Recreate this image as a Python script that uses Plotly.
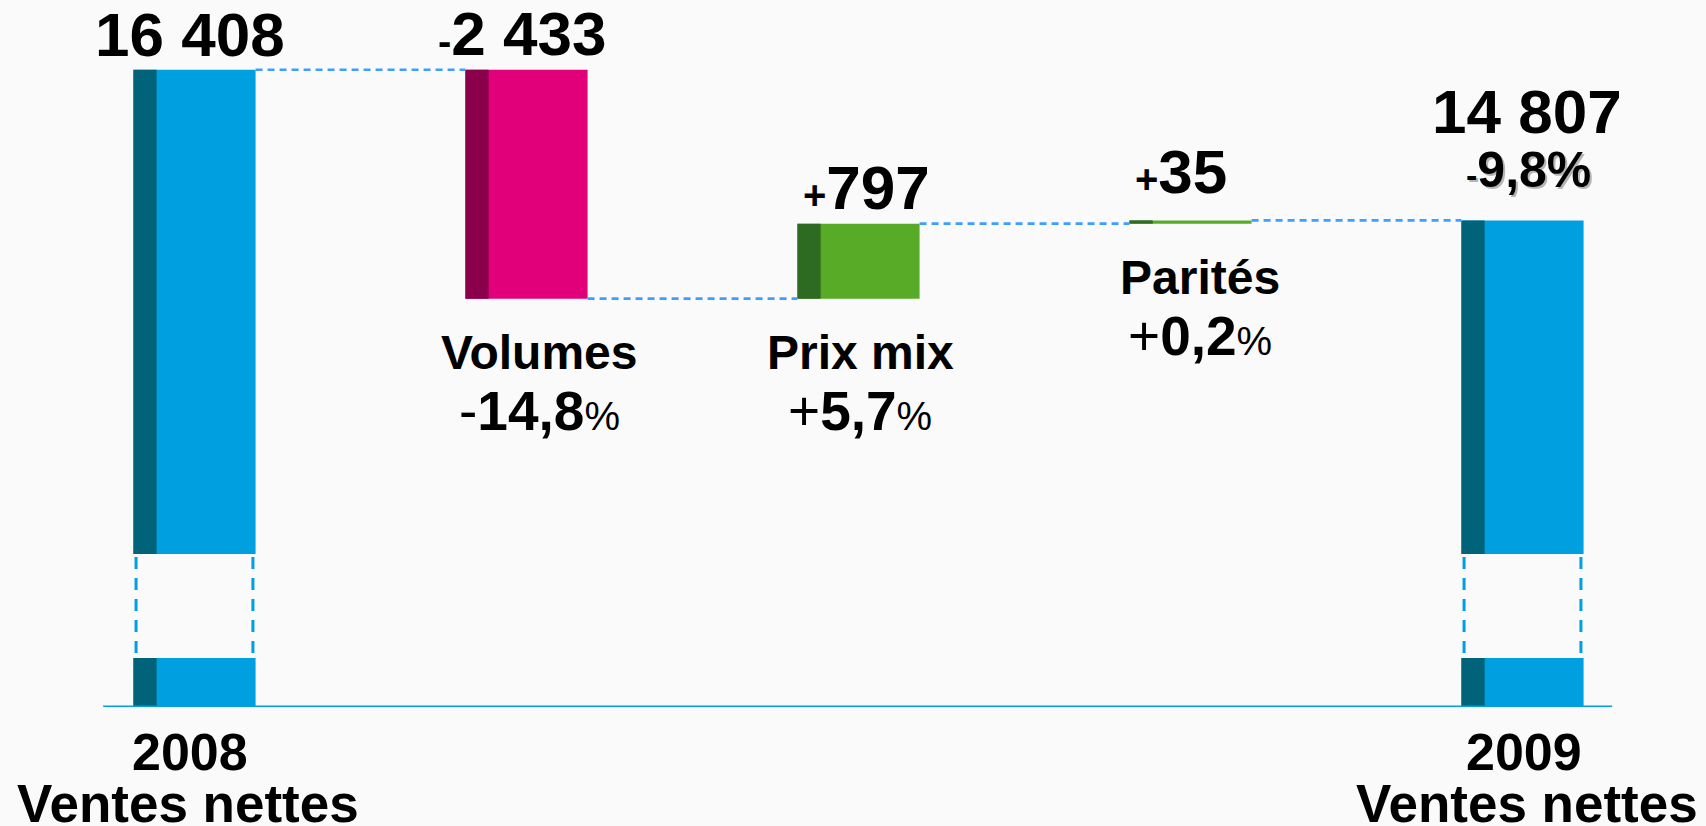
import plotly.graph_objects as go

# ---------------- data ----------------
categories = ["2008", "Volumes", "Prix mix", "Parités", "2009"]
kinds = ["total", "delta", "delta", "delta", "total"]
values = [16408, -2433, 797, 35, 14807]
value_labels = ["16 408", "-2 433", "+797", "+35", "14 807"]
pct_labels = ["", "-14,8%", "+5,7%", "+0,2%", "-9,8%"]
total_subtitle = "Ventes nettes"

# ---------------- styling constants ----------------
W = 1706
H = 826
BG = "#FAFAFA"
BAR_W = 0.368
STRIP_W = 0.07
BLUE, BLUE_D = "#009FDF", "#00637A"
PINK, PINK_D = "#E2007A", "#8B004A"
GREEN, GREEN_D = "#58AB27", "#2D6A22"
CONNECT = "#3F9EFF"
FONT = "Liberation Sans, Arial, Helvetica, sans-serif"


def px2paper(p):
    return 1 - p / H


# ---------------- compute waterfall geometry from data ----------------
bases, heights, main_cols, dark_cols, levels = [], [], [], [], []
level = 0
for k, v in zip(kinds, values):
    if k == "total":
        bases.append(0)
        heights.append(v)
        main_cols.append(BLUE)
        dark_cols.append(BLUE_D)
        level = v
    else:
        start, end = level, level + v
        bases.append(min(start, end))
        heights.append(abs(v))
        main_cols.append(PINK if v < 0 else GREEN)
        dark_cols.append(PINK_D if v < 0 else GREEN_D)
        level = end
    levels.append(level)

idx = list(range(len(categories)))
tot_idx = [i for i, k in enumerate(kinds) if k == "total"]

fig = go.Figure()

# top (broken) section
fig.add_trace(go.Bar(x=idx, y=heights, base=bases, width=BAR_W, offset=-BAR_W / 2,
                     marker=dict(color=main_cols, line=dict(width=0)),
                     yaxis="y2", hoverinfo="skip"))
fig.add_trace(go.Bar(x=idx, y=heights, base=bases, width=STRIP_W, offset=-BAR_W / 2,
                     marker=dict(color=dark_cols, line=dict(width=0)),
                     yaxis="y2", hoverinfo="skip"))
# bottom stub section for totals
fig.add_trace(go.Bar(x=tot_idx, y=[values[i] for i in tot_idx], base=0, width=BAR_W,
                     offset=-BAR_W / 2, marker=dict(color=BLUE, line=dict(width=0)),
                     yaxis="y", hoverinfo="skip"))
fig.add_trace(go.Bar(x=tot_idx, y=[values[i] for i in tot_idx], base=0, width=STRIP_W,
                     offset=-BAR_W / 2, marker=dict(color=BLUE_D, line=dict(width=0)),
                     yaxis="y", hoverinfo="skip"))

# dashed connectors
cx, cy = [], []
for i in range(len(idx) - 1):
    cx += [i + BAR_W / 2, i + 1 - BAR_W / 2, None]
    cy += [levels[i], levels[i], None]
fig.add_trace(go.Scatter(x=cx, y=cy, mode="lines", yaxis="y2",
                         line=dict(color=CONNECT, width=2.6, dash="7px,5px"),
                         hoverinfo="skip"))

shapes = []
# baseline axis
shapes.append(dict(type="line", xref="x", yref="y", x0=-0.275, x1=idx[-1] + 0.27,
                   y0=0, y1=0, line=dict(color=BLUE, width=3)))
# break dashed sides
for i in tot_idx:
    for xe in (i - BAR_W / 2 + 0.008, i + BAR_W / 2 - 0.008):
        shapes.append(dict(type="line", xref="x", yref="paper", x0=xe, x1=xe,
                           y0=px2paper(557), y1=px2paper(656),
                           line=dict(color=BLUE, width=3, dash="12px,9px")))

ann = []


def add(text, x, y, yref, yanchor, yshift, size, color="black", xshift=0):
    ann.append(dict(text=text, x=x, y=y, xref="x", yref=yref, xanchor="center",
                    yanchor=yanchor, yshift=yshift, xshift=xshift, showarrow=False,
                    font=dict(family=FONT, size=size, color=color, weight="normal")))


VAL = 62
SIGN = 40
NAME = 48
PCT = 55
for i in idx:
    top = bases[i] + heights[i]
    bottom = bases[i]
    lab = value_labels[i]
    if lab[0] in "+-":
        txt = f"<span style='font-size:{SIGN}px'><b>{lab[0]}</b></span><b>{lab[1:]}</b>"
    else:
        txt = f"<b>{lab}</b>"
    if kinds[i] == "total":
        if pct_labels[i]:
            p = pct_labels[i]
            ptxt = (f"<span style='font-size:34px'><b>{p[0]}</b></span>"
                    f"<b>{p[1:]}</b>")
            add(ptxt, i, top, "y2", "bottom", 18, 50, color="#B5B5B5", xshift=8)
            add(ptxt, i, top, "y2", "bottom", 20, 50, xshift=6)
            add(txt, i, top, "y2", "bottom", 72, VAL, xshift=4)
        else:
            add(txt, i, top, "y2", "bottom", -1, VAL, xshift=-4)
        # category labels under axis
        add(f"<b>{categories[i]}</b>", i, 0, "y", "top", -14, 52, xshift=-4 if i == 0 else 1)
        add(f"<b>{total_subtitle}</b>", i, 0, "y", "top", -65, 53, xshift=-6 if i == 0 else 4)
    else:
        ys = 12 if abs(values[i]) < 100 else 0
        add(txt, i, top, "y2", "bottom", ys, VAL, xshift=(-4 if i == 1 else 8 if i == 2 else -10))
        dx = {1: 13, 2: 2, 3: 9}[i]
        add(f"<b>{categories[i]}</b>", i, bottom, "y2", "top", -25, NAME, xshift=dx)
        p = pct_labels[i]
        ptxt = (f"{p[0]}<b>{p[1:-1]}</b>"
                f"<span style='font-size:40px'>%</span>")
        add(ptxt, i, bottom, "y2", "top", -79, PCT, xshift=dx)

fig.update_layout(
    width=W, height=H,
    margin=dict(l=0, r=0, t=0, b=0),
    paper_bgcolor=BG, plot_bgcolor=BG,
    barmode="overlay", showlegend=False,
    xaxis=dict(range=[-0.5858, 4.5527], visible=False, anchor="y", fixedrange=True),
    yaxis=dict(domain=[px2paper(707), px2paper(658)], range=[0, 500], visible=False,
               fixedrange=True),
    yaxis2=dict(domain=[px2paper(554), 1.0], range=[11260, 17150], visible=False,
                anchor="x", fixedrange=True),
    shapes=shapes,
    annotations=ann,
)

fig.write_html("out.html", config={"displayModeBar": False},
               post_script="document.body.style.margin='0';")
